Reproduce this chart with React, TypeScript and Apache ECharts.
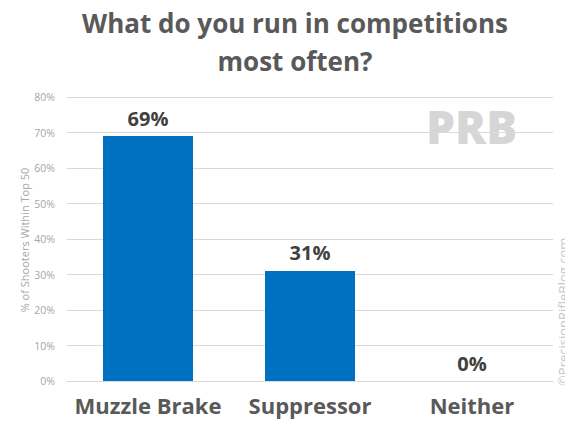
import React, { useEffect, useRef } from "react";
import * as echarts from "echarts";

const categories: string[] = ["Muzzle Brake", "Suppressor", "Neither"];
const shares: number[] = [69, 31, 0];
const yTicks: number[] = [0, 10, 20, 30, 40, 50, 60, 70, 80];
const titleLines: string[] = ["What do you run in competitions", "most often?"];
const yAxisTitle = "% of Shooters Within Top 50";
const credit = "©PrecisionRifleBlog.com";

const FONT = "'Open Sans', 'Noto Sans', sans-serif";

export default function App() {
  const ref = useRef<HTMLDivElement>(null);

  useEffect(() => {
    if (!ref.current) return;
    const chart = echarts.init(ref.current, null, { renderer: "svg" });
    chart.setOption({
      animation: false,
      backgroundColor: "#ffffff",
      grid: { left: 67, right: 20, top: 97, bottom: 49, containLabel: false },
      xAxis: {
        type: "category",
        data: categories,
        axisLine: { show: true, lineStyle: { color: "#d9d9d9", width: 1 } },
        axisTick: { show: false },
        axisLabel: {
          interval: 0,
          color: "#595959",
          fontFamily: FONT,
          fontWeight: "bold",
          fontSize: 22,
          margin: 13,
        },
      },
      yAxis: {
        type: "value",
        min: yTicks[0],
        max: yTicks[yTicks.length - 1],
        interval: 10,
        axisLine: { show: false },
        axisTick: { show: false },
        splitLine: { lineStyle: { color: "#d9d9d9", width: 1 } },
        axisLabel: {
          color: "#a6a6a6",
          fontFamily: FONT,
          fontSize: 10.5,
          margin: 12,
          formatter: (v: number) => `${v}%`,
        },
      },
      graphic: [
        {
          type: "text",
          x: 295,
          y: 4,
          style: {
            text: titleLines.join("\n"),
            textAlign: "center",
            fill: "#595959",
            font: `bold 26px ${FONT}`,
            lineHeight: 38,
          },
        },
        {
          type: "text",
          x: 24,
          y: 240,
          rotation: Math.PI / 2,
          style: {
            text: yAxisTitle,
            textAlign: "center",
            textVerticalAlign: "middle",
            fill: "#a6a6a6",
            font: `11px ${FONT}`,
          },
        },
        {
          type: "text",
          x: 426,
          y: 103,
          style: {
            text: "PRB",
            fill: "#d6d6d6",
            font: `900 46px ${FONT}`,
          },
        },
        {
          type: "text",
          x: 563,
          y: 386,
          rotation: Math.PI / 2,
          style: {
            text: credit,
            fill: "#c8c8c8",
            font: `13px ${FONT}`,
            textAlign: "left",
            textVerticalAlign: "middle",
          },
        },
      ],
      series: [
        {
          type: "bar",
          data: shares,
          barWidth: 90,
          itemStyle: { color: "#0070c0" },
          label: {
            show: true,
            position: "top",
            distance: 8,
            formatter: (p: { value: number }) => `${p.value}%`,
            color: "#404040",
            fontFamily: FONT,
            fontWeight: "bold",
            fontSize: 20,
          },
        },
      ],
    });
    return () => chart.dispose();
  }, []);

  return <div ref={ref} style={{ width: 573, height: 430, margin: -8 }} />;
}
